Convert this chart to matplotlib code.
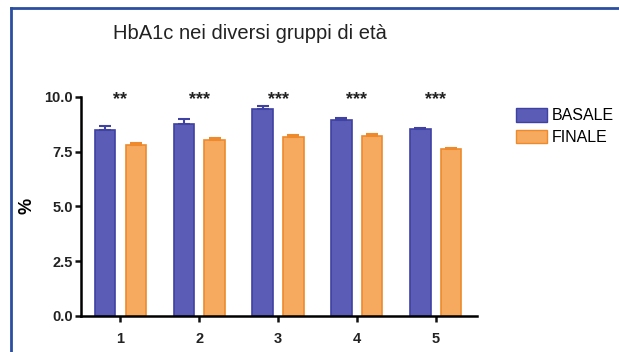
import numpy as np
import matplotlib
matplotlib.use("Agg")
import matplotlib.pyplot as plt
from matplotlib.lines import Line2D
from matplotlib.patches import Patch

# --- Data ---
groups = ["1", "2", "3", "4", "5"]
basale = [8.48, 8.78, 9.42, 8.95, 8.52]
basale_err = [0.18, 0.19, 0.18, 0.07, 0.06]
finale = [7.80, 8.02, 8.18, 8.22, 7.63]
finale_err = [0.10, 0.10, 0.08, 0.06, 0.05]
signif = ["**", "***", "***", "***", "***"]

plt.rcParams["font.family"] = ["Liberation Sans", "DejaVu Sans"]

BLUE = "#5a5cb5"
BLUE_EDGE = "#3f41a3"
ORANGE = "#f6aa60"
ORANGE_EDGE = "#ee8a2c"

fig = plt.figure(figsize=(6.19, 3.52), dpi=100)
ax = fig.add_axes([0.131, 0.103, 0.639, 0.622])

x = np.arange(1, len(groups) + 1)
w = 0.26
off = 0.195

ax.bar(x - off, basale, w, color=BLUE, edgecolor=BLUE_EDGE, linewidth=1.2)
ax.bar(x + off, finale, w, color=ORANGE, edgecolor=ORANGE_EDGE, linewidth=1.2)
# one-sided (upper) error bars
ax.errorbar(x - off, basale, yerr=[np.zeros(len(x)), basale_err], fmt="none",
            ecolor=BLUE_EDGE, elinewidth=1.5, capsize=4, capthick=1.5)
ax.errorbar(x + off, finale, yerr=[np.zeros(len(x)), finale_err], fmt="none",
            ecolor=ORANGE_EDGE, elinewidth=1.5, capsize=4, capthick=1.5)

for xi, s in zip(x, signif):
    ax.text(xi, 9.85, s, ha="center", va="center", fontsize=13, fontweight="bold",
            color="#222222", clip_on=False)

ax.set_xlim(0.5, 5.52)
ax.set_ylim(0, 10)
ax.set_yticks([0, 2.5, 5.0, 7.5, 10.0])
ax.set_yticklabels(["0.0", "2.5", "5.0", "7.5", "10.0"])
ax.set_xticks(x)
ax.set_xticklabels(groups)
for lab in ax.get_xticklabels() + ax.get_yticklabels():
    lab.set_fontweight("bold")
    lab.set_fontsize(10.5)
    lab.set_color("#222222")
ax.tick_params(axis="both", width=1.8, length=4, color="#111111", pad=2)
ax.tick_params(axis="x", pad=8)
ax.spines["top"].set_visible(False)
ax.spines["right"].set_visible(False)
ax.spines["left"].set_linewidth(1.8)
ax.spines["bottom"].set_linewidth(1.8)
ax.set_ylabel("%", fontsize=13, fontweight="bold", labelpad=6)

fig.text(0.183, 0.905, "HbA1c nei diversi gruppi di età", fontsize=14.5,
         color="#222222", va="center")

handles = [Patch(facecolor=BLUE, edgecolor=BLUE_EDGE),
           Patch(facecolor=ORANGE, edgecolor=ORANGE_EDGE)]
fig.legend(handles, ["BASALE", "FINALE"], loc="upper left",
           bbox_to_anchor=(0.82, 0.715), frameon=False, fontsize=11.5,
           handlelength=1.95, handleheight=0.9, handletextpad=0.3,
           labelspacing=0.4, borderpad=0)

# blue frame around the picture
fig.add_artist(Line2D([0.018, 1.0], [0.977, 0.977], color="#2a4fa0", lw=2.0))
fig.add_artist(Line2D([0.018, 0.018], [0.0, 0.977], color="#2a4fa0", lw=2.0))

fig.savefig("out.png", dpi=100)
